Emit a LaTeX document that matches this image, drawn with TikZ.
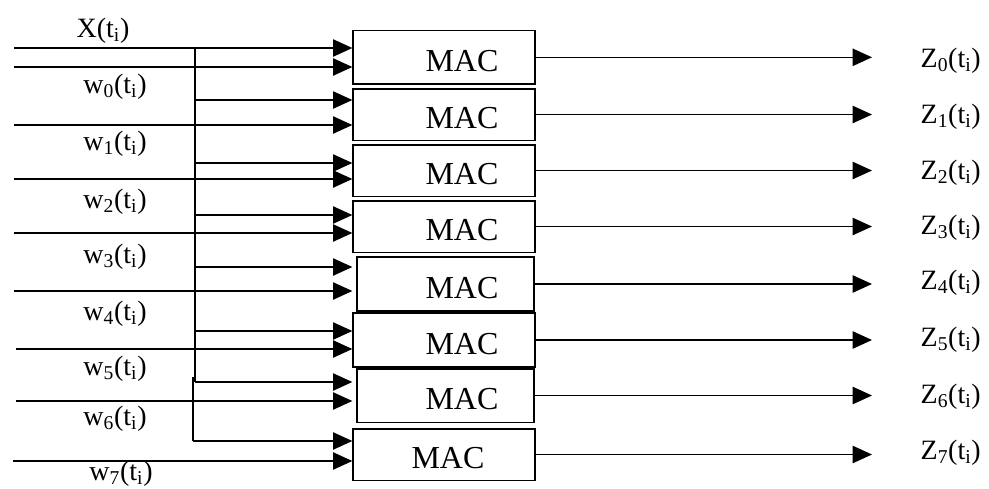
\documentclass[tikz,border=0pt]{standalone}
\usepackage{fontspec}
\setmainfont{Liberation Serif}
\usetikzlibrary{arrows.meta}
\newcommand{\sig}[2]{#1\textsubscript{#2}(t\textsubscript{i})}
\begin{document}
\begin{tikzpicture}[x=0.75pt,y=-0.75pt,line width=1pt,
	mac/.style={draw, line width=1pt, minimum width=136.5pt, minimum height=38.5pt, inner sep=0pt},
	mactxt/.style={font=\fontsize{24}{28}\selectfont, inner sep=0pt},
	lbl/.style={font=\fontsize{21}{25}\selectfont, inner sep=0pt, anchor=base},
	zlbl/.style={font=\fontsize{21}{25}\selectfont, inner sep=0pt, anchor=base west},
	arr/.style={-{Triangle[length=14.5pt, width=13pt]}}]
	\useasboundingbox (0,0) rectangle (989,489);
	
	% MAC units
	\node[mac, minimum height=40pt] (m0) at (444,57.3) {};
	\node[mac] (m1) at (444,114.5) {};
	\node[mac] (m2) at (444,170.5) {};
	\node[mac] (m3) at (444,226.5) {};
	\node[mac, minimum width=132.75pt, minimum height=40.5pt] (m4) at (445.5,284) {};
	\node[mac, minimum height=40.5pt] (m5) at (444,340) {};
	\node[mac, minimum width=132.75pt, minimum height=40pt] (m6) at (445.5,395.5) {};
	\node[mac] (m7) at (444,454.5) {};
	
	\node[mactxt] (t0) at ([shift={(18,4)}]m0.center) {MAC};
	\node[mactxt] (t1) at ([shift={(18,4)}]m1.center) {MAC};
	\node[mactxt] (t2) at ([shift={(18,4)}]m2.center) {MAC};
	\node[mactxt] (t3) at ([shift={(18,4)}]m3.center) {MAC};
	\node[mactxt] (t4) at ([shift={(16.5,4)}]m4.center) {MAC};
	\node[mactxt] (t5) at ([shift={(18,4)}]m5.center) {MAC};
	\node[mactxt] (t6) at ([shift={(16.5,4)}]m6.center) {MAC};
	\node[mactxt] (t7) at ([shift={(4,4)}]m7.center) {MAC};
	
	% input lines
	\coordinate (x0) at (14,48);
	\coordinate (w0) at (14,67);
	\coordinate (w1) at (14,125);
	\coordinate (w2) at (14,179);
	\coordinate (w3) at (14,233);
	\coordinate (w4) at (14,291);
	\coordinate (w5) at (16,349);
	\coordinate (w6) at (16,401);
	\coordinate (w7) at (13,461);
	
	\draw[arr] (x0) -- (x0 -| m0.west);
	\draw[arr] (w0) -- (w0 -| m0.west);
	\draw[arr] (w1) -- (w1 -| m0.west);
	\draw[arr] (w2) -- (w2 -| m0.west);
	\draw[arr] (w3) -- (w3 -| m0.west);
	\draw[arr] (w4) -- (w4 -| m0.west);
	\draw[arr] (w5) -- (w5 -| m0.west);
	\draw[arr] (w6) -- (w6 -| m0.west);
	\draw[arr] (w7) -- (w7 -| m0.west);
	
	% X bus
	\coordinate (b0) at (195,48);
	\coordinate (b1) at (195,100);
	\coordinate (b2) at (195,163);
	\coordinate (b3) at (195,215);
	\coordinate (b4) at (195,267);
	\coordinate (b5) at (195,331);
	\coordinate (b6) at (195,382);
	\coordinate (b7) at (193,441);
	\coordinate (bj) at (193,377);
	
	\draw (b0) -- (b6);
	\draw (bj) -- (b7);
	\draw[arr] (b1) -- (b1 -| m0.west);
	\draw[arr] (b2) -- (b2 -| m0.west);
	\draw[arr] (b3) -- (b3 -| m0.west);
	\draw[arr] (b4) -- (b4 -| m0.west);
	\draw[arr] (b5) -- (b5 -| m0.west);
	\draw[arr] (b6) -- (b6 -| m0.west);
	\draw[arr] (b7) -- (b7 -| m0.west);
	
	% input labels
	\node[lbl] (lx) at (103,37) {X(t\textsubscript{i})};
	\node[lbl] (l0) at (115,93) {\sig{w}{0}};
	\node[lbl] (l1) at (115,150) {\sig{w}{1}};
	\node[lbl] (l2) at (115,208) {\sig{w}{2}};
	\node[lbl] (l3) at (115,263) {\sig{w}{3}};
	\node[lbl] (l4) at (115,320) {\sig{w}{4}};
	\node[lbl] (l5) at (115,375) {\sig{w}{5}};
	\node[lbl] (l6) at (115,425) {\sig{w}{6}};
	\node[lbl] (l7) at (121,480) {\sig{w}{7}};
	
	% outputs
	\node[zlbl] (z0) at (920,67) {\sig{Z}{0}};
	\node[zlbl] (z1) at (920,123) {\sig{Z}{1}};
	\node[zlbl] (z2) at (920,179) {\sig{Z}{2}};
	\node[zlbl] (z3) at (920,234) {\sig{Z}{3}};
	\node[zlbl] (z4) at (920,289) {\sig{Z}{4}};
	\node[zlbl] (z5) at (920,346) {\sig{Z}{5}};
	\node[zlbl] (z6) at (920,403) {\sig{Z}{6}};
	\node[zlbl] (z7) at (920,459) {\sig{Z}{7}};
	
	\draw[arr, shorten >=36pt] (m0.east) -- (m0.east -| z0.west);
	\draw[arr, shorten >=36pt] (m1.east) -- (m1.east -| z1.west);
	\draw[arr, shorten >=36pt] (m2.east) -- (m2.east -| z2.west);
	\draw[arr, shorten >=36pt] (m3.east) -- (m3.east -| z3.west);
	\draw[arr, shorten >=36pt] (m4.east) -- (m4.east -| z4.west);
	\draw[arr, shorten >=36pt] (m5.east) -- (m5.east -| z5.west);
	\draw[arr, shorten >=36pt] (m6.east) -- (m6.east -| z6.west);
	\draw[arr, shorten >=36pt] (m7.east) -- (m7.east -| z7.west);
\end{tikzpicture}
\end{document}
